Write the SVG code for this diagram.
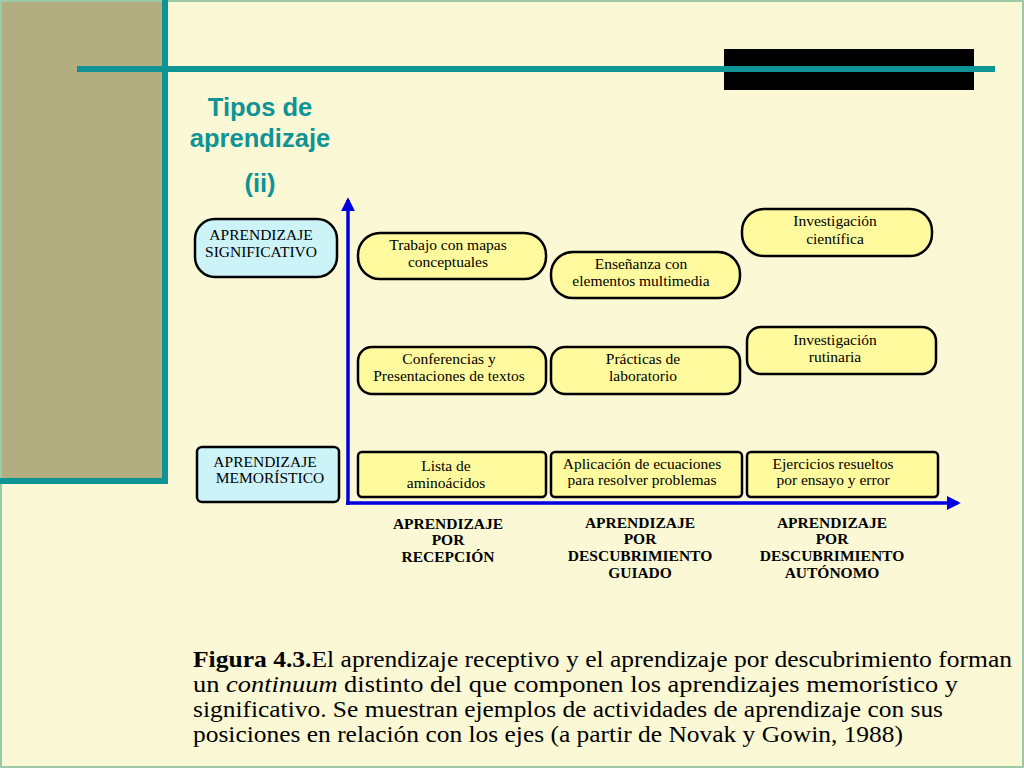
<svg xmlns="http://www.w3.org/2000/svg" width="1024" height="768" viewBox="0 0 1024 768">
<defs>
<style>
.t{font-family:"Liberation Serif","Times New Roman",serif;font-size:15.5px;fill:#000;text-anchor:middle}
.b{font-family:"Liberation Serif","Times New Roman",serif;font-size:15.5px;font-weight:bold;fill:#000;text-anchor:middle}
.y{fill:#FFFA9E;stroke:#000;stroke-width:2.5}
.c{fill:#CCF3F8;stroke:#000;stroke-width:2.5}
.ti{font-family:"Liberation Sans",Arial,sans-serif;font-size:25.5px;font-weight:bold;fill:#0E9494;text-anchor:middle}
.cap{font-family:"Liberation Serif","Times New Roman",serif;font-size:23px;fill:#000}
.ax{stroke:#0000E0;stroke-width:3.5;fill:none}
</style>
<marker id="ah" viewBox="0 0 10 10" refX="8" refY="5" markerWidth="4" markerHeight="4" orient="auto" markerUnits="strokeWidth">
<path d="M0,0 L10,5 L0,10 z" fill="#0000E0"/>
</marker>
</defs>
<rect x="0" y="0" width="1024" height="768" fill="#FBF8D5"/>
<rect x="1" y="1" width="1022" height="766" fill="none" stroke="#9CC9A8" stroke-width="2"/>
<rect x="2" y="2" width="162" height="478" fill="#B3AD82"/>
<rect x="162" y="0" width="6" height="484" fill="#0E9494"/>
<rect x="0" y="478" width="168" height="6" fill="#0E9494"/>
<rect x="724" y="49" width="250" height="41" fill="#000"/>
<rect x="77" y="66" width="918" height="6" fill="#0E9494"/>
<g id="title">
<text class="ti" x="260" y="116">Tipos de</text>
<text class="ti" x="260" y="147">aprendizaje</text>
<text class="ti" x="260" y="192">(ii)</text>
</g>
<g id="connectors">
<line class="ax" x1="348" y1="505" x2="348" y2="200" marker-end="url(#ah)"/>
<line class="ax" x1="346" y1="503" x2="958" y2="503" marker-end="url(#ah)"/>
</g>
<g id="significativo">
<rect class="c" x="195" y="219" width="142" height="58" rx="20"/>
<text class="t" x="261" y="240">APRENDIZAJE</text>
<text class="t" x="261" y="257">SIGNIFICATIVO</text>
</g>
<g id="memoristico">
<rect class="c" x="197" y="447" width="142" height="55" rx="5"/>
<text class="t" x="265" y="467">APRENDIZAJE</text>
<text class="t" x="270" y="483">MEMORÍSTICO</text>
</g>
<g id="mapas">
<rect class="y" x="358" y="233" width="188" height="46" rx="22"/>
<text class="t" x="448" y="250">Trabajo con mapas</text>
<text class="t" x="448" y="267">conceptuales</text>
</g>
<g id="multimedia">
<rect class="y" x="551" y="252" width="189" height="46" rx="22"/>
<text class="t" x="641" y="269">Enseñanza con</text>
<text class="t" x="641" y="286">elementos multimedia</text>
</g>
<g id="cientifica">
<rect class="y" x="742" y="209" width="190" height="47" rx="22"/>
<text class="t" x="835" y="226">Investigación</text>
<text class="t" x="835" y="244">científica</text>
</g>
<g id="conferencias">
<rect class="y" x="358" y="347" width="188" height="47" rx="14"/>
<text class="t" x="449" y="364">Conferencias y</text>
<text class="t" x="449" y="381">Presentaciones de textos</text>
</g>
<g id="practicas">
<rect class="y" x="551" y="347" width="189" height="47" rx="14"/>
<text class="t" x="643" y="364">Prácticas de</text>
<text class="t" x="643" y="381">laboratorio</text>
</g>
<g id="rutinaria">
<rect class="y" x="747" y="327" width="189" height="47" rx="14"/>
<text class="t" x="835" y="345">Investigación</text>
<text class="t" x="835" y="362">rutinaria</text>
</g>
<g id="lista">
<rect class="y" x="358" y="452" width="188" height="45" rx="4"/>
<text class="t" x="446" y="471">Lista de</text>
<text class="t" x="446" y="488">aminoácidos</text>
</g>
<g id="ecuaciones">
<rect class="y" x="551" y="452" width="191" height="45" rx="4"/>
<text class="t" x="642" y="469">Aplicación de ecuaciones</text>
<text class="t" x="642" y="485">para resolver problemas</text>
</g>
<g id="ejercicios">
<rect class="y" x="747" y="452" width="191" height="45" rx="4"/>
<text class="t" x="833" y="469">Ejercicios resueltos</text>
<text class="t" x="833" y="485">por ensayo y error</text>
</g>
<g id="recepcion">
<text class="b" x="448" y="529">APRENDIZAJE</text>
<text class="b" x="448" y="545">POR</text>
<text class="b" x="448" y="562">RECEPCIÓN</text>
</g>
<g id="guiado">
<text class="b" x="640" y="528">APRENDIZAJE</text>
<text class="b" x="640" y="544">POR</text>
<text class="b" x="640" y="561">DESCUBRIMIENTO</text>
<text class="b" x="640" y="578">GUIADO</text>
</g>
<g id="autonomo">
<text class="b" x="832" y="528">APRENDIZAJE</text>
<text class="b" x="832" y="544">POR</text>
<text class="b" x="832" y="561">DESCUBRIMIENTO</text>
<text class="b" x="832" y="578">AUTÓNOMO</text>
</g>
<g id="caption">
<text class="cap" x="193" y="667" textLength="819" lengthAdjust="spacingAndGlyphs"><tspan font-weight="bold">Figura 4.3.</tspan>El aprendizaje receptivo y el aprendizaje por descubrimiento forman</text>
<text class="cap" x="193" y="692" textLength="765" lengthAdjust="spacingAndGlyphs">un <tspan font-style="italic">continuum</tspan> distinto del que componen los aprendizajes memorístico y</text>
<text class="cap" x="193" y="717" textLength="750" lengthAdjust="spacingAndGlyphs">significativo. Se muestran ejemplos de actividades de aprendizaje con sus</text>
<text class="cap" x="193" y="742" textLength="710" lengthAdjust="spacingAndGlyphs">posiciones en relación con los ejes (a partir de Novak y Gowin, 1988)</text>
</g>
</svg>
